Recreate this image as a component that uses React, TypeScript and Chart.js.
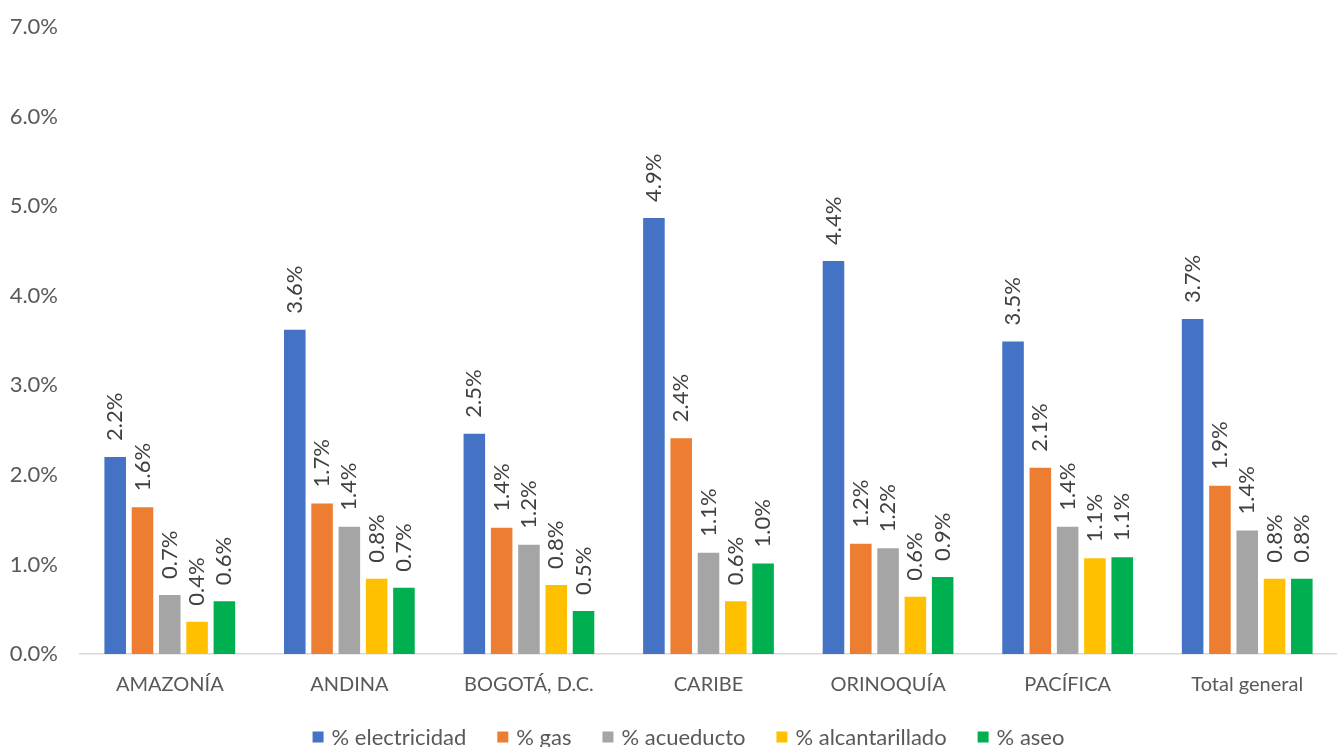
import React, { useEffect, useRef } from "react";
import { Chart, registerables } from "chart.js";

Chart.register(...registerables);

const categories = ["AMAZONÍA", "ANDINA", "BOGOTÁ, D.C.", "CARIBE", "ORINOQUÍA", "PACÍFICA", "Total general"];
const seriesNames = ["% electricidad", "% gas", "% acueducto", "% alcantarillado", "% aseo"];
const electricidad = [2.2, 3.62, 2.46, 4.87, 4.39, 3.49, 3.74];
const gas = [1.64, 1.68, 1.41, 2.41, 1.23, 2.08, 1.88];
const acueducto = [0.66, 1.42, 1.22, 1.13, 1.18, 1.42, 1.38];
const alcantarillado = [0.36, 0.84, 0.77, 0.59, 0.64, 1.07, 0.84];
const aseo = [0.59, 0.74, 0.48, 1.01, 0.86, 1.08, 0.84];
const colors = ["#4472C4", "#ED7D31", "#A5A5A5", "#FFC000", "#00B050"];
const yTicks = [0, 1, 2, 3, 4, 5, 6, 7];

const FONT = "Lato, 'Open Sans', sans-serif";

const valueLabels = {
  id: "valueLabels",
  afterDatasetsDraw(chart: any) {
    const ctx = chart.ctx;
    ctx.save();
    ctx.font = `22px ${FONT}`;
    ctx.fillStyle = "#404040";
    ctx.textAlign = "left";
    ctx.textBaseline = "middle";
    chart.data.datasets.forEach((ds: any, i: number) => {
      const meta = chart.getDatasetMeta(i);
      meta.data.forEach((bar: any, j: number) => {
        const v = ds.data[j];
        ctx.save();
        ctx.translate(bar.x, bar.y - 16);
        ctx.rotate(-Math.PI / 2);
        ctx.fillText(v.toFixed(1) + "%", 0, 0);
        ctx.restore();
      });
    });
    ctx.restore();
  },
};

const bottomLegend = {
  id: "bottomLegend",
  afterDraw(chart: any) {
    const ctx = chart.ctx;
    const box = 11;
    const textGap = 8;
    const itemGap = 31;
    const y = 737;
    ctx.save();
    ctx.font = `22px ${FONT}`;
    ctx.textBaseline = "middle";
    ctx.textAlign = "left";
    const items = chart.data.datasets.map((ds: any) => ({
      text: ds.label,
      color: ds.backgroundColor,
      w: ctx.measureText(ds.label).width,
    }));
    const total =
      items.reduce((s: number, it: any) => s + box + textGap + it.w, 0) + itemGap * (items.length - 1);
    let x = chart.width / 2 + 20 - total / 2;
    items.forEach((it: any) => {
      ctx.fillStyle = it.color;
      ctx.fillRect(x, y - box / 2, box, box);
      x += box + textGap;
      ctx.fillStyle = "#595959";
      ctx.fillText(it.text, x, y + 1);
      x += it.w + itemGap;
    });
    ctx.restore();
  },
};

export default function App() {
  const ref = useRef<HTMLCanvasElement>(null);
  useEffect(() => {
    if (!ref.current) return;
    const all = [electricidad, gas, acueducto, alcantarillado, aseo];
    const chart = new Chart(ref.current, {
      type: "bar",
      data: {
        labels: categories,
        datasets: all.map((d, i) => ({
          label: seriesNames[i],
          data: d,
          backgroundColor: colors[i],
          categoryPercentage: 0.76,
          barPercentage: 0.79,
        })),
      },
      options: {
        animation: false,
        responsive: false,
        maintainAspectRatio: false,
        layout: { padding: { top: -2, left: 0, right: 0, bottom: 0 } },
        plugins: {
          tooltip: { enabled: false },
          legend: { display: false },
        },
        scales: {
          x: {
            grid: { display: false },
            border: { display: true, color: "#D9D9D9", width: 1.5 },
            ticks: { color: "#595959", font: { size: 20, family: FONT }, padding: 11, maxRotation: 0 },
            afterFit: (axis: any) => {
              axis.height = 93;
            },
          },
          y: {
            min: yTicks[0],
            max: yTicks[yTicks.length - 1],
            grid: { display: false },
            border: { display: false },
            afterBuildTicks: (axis: any) => {
              axis.ticks = yTicks.map((v) => ({ value: v }));
            },
            afterFit: (axis: any) => {
              axis.width = 80;
            },
            ticks: {
              color: "#595959",
              font: { size: 22, family: FONT },
              padding: 14,
              callback: (v: any) => Number(v).toFixed(1) + "%",
            },
          },
        },
      },
      plugins: [valueLabels, bottomLegend],
    });
    return () => chart.destroy();
  }, []);
  return (
    <div style={{ position: "absolute", left: 0, top: 0, width: 1337, height: 747, background: "#fff" }}>
      <canvas ref={ref} width={1337} height={747} style={{ display: "block" }} />
    </div>
  );
}
